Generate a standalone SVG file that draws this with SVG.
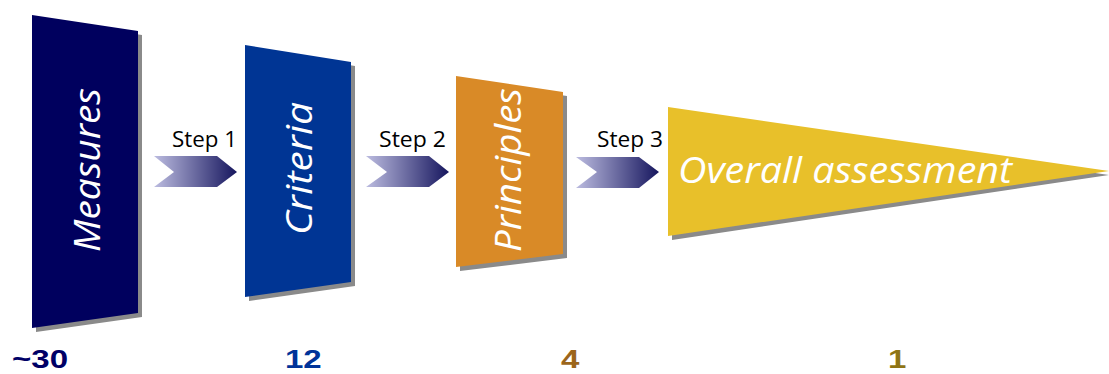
<svg xmlns="http://www.w3.org/2000/svg" width="1109" height="374" viewBox="0 0 1109 374">
<style>
.shadow{fill:#8a8a8a}
.lbl{font-family:"Open Sans","Liberation Sans",sans-serif;font-style:italic;font-size:36px;fill:#ffffff}
.step{font-family:"Open Sans","Liberation Sans",sans-serif;font-size:21px;fill:#000000}
.num{font-family:"Liberation Sans",Arial,sans-serif;font-weight:bold;font-size:26px}
</style>
<defs>
<linearGradient id="arrowGrad" x1="0" y1="0" x2="1" y2="0">
<stop offset="0" stop-color="#bcbce0"/>
<stop offset="1" stop-color="#16165e"/>
</linearGradient>
</defs>
<g id="measures">
<polygon class="shadow" points="36,19 142,35 142,317 36,332"/>
<polygon fill="#00005e" points="32,15 138,31 138,313 32,328"/>
<text class="lbl" transform="translate(100,170) rotate(-90)" text-anchor="middle" textLength="164" lengthAdjust="spacingAndGlyphs">Measures</text>
</g>
<g id="criteria">
<polygon class="shadow" points="249,49 355,66 355,286 249,301"/>
<polygon fill="#003594" points="245,45 351,62 351,282 245,297"/>
<text class="lbl" transform="translate(312,168.5) rotate(-90)" text-anchor="middle" textLength="133" lengthAdjust="spacingAndGlyphs">Criteria</text>
</g>
<g id="principles">
<polygon class="shadow" points="460,80 567,96 567,258 460,271"/>
<polygon fill="#d98a27" points="456,76 563,92 563,254 456,267"/>
<text class="lbl" transform="translate(521,170) rotate(-90)" text-anchor="middle" textLength="164" lengthAdjust="spacingAndGlyphs">Principles</text>
</g>
<g id="overall">
<polygon class="shadow" points="672,111 1109,175 672,240"/>
<polygon fill="#e8c02a" points="668,107 1109,171 668,236"/>
<text class="lbl" x="678" y="183" textLength="334" lengthAdjust="spacingAndGlyphs">Overall assessment</text>
</g>
<g id="connectors">
<polygon fill="url(#arrowGrad)" points="154,156 217,156 237,172 217,187 154,187 174,172"/>
<polygon fill="url(#arrowGrad)" points="366,156 429,156 449,172 429,187 366,187 387,172"/>
<polygon fill="url(#arrowGrad)" points="576,157 639,157 659,172 639,188 576,188 597,172"/>
<text class="step" x="172" y="147" textLength="65" lengthAdjust="spacingAndGlyphs">Step 1</text>
<text class="step" x="379" y="147" textLength="67" lengthAdjust="spacingAndGlyphs">Step 2</text>
<text class="step" x="597" y="147" textLength="66" lengthAdjust="spacingAndGlyphs">Step 3</text>
</g>
<g id="counts">
<text class="num" fill="#000066" transform="translate(12,368) scale(1.27,1)">~30</text>
<text class="num" fill="#003399" transform="translate(285,368) scale(1.27,1)">12</text>
<text class="num" fill="#9c661c" transform="translate(561,368) scale(1.27,1)">4</text>
<text class="num" fill="#8f7414" transform="translate(888,368) scale(1.27,1)">1</text>
</g>
</svg>
